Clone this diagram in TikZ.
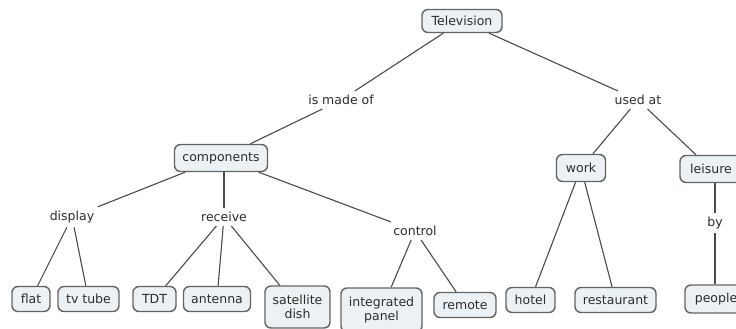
\documentclass[tikz,border=0pt]{standalone}
\usepackage{fontspec}
\setmainfont{DejaVu Sans}
\definecolor{boxfill}{RGB}{235,241,245}
\definecolor{boxline}{RGB}{100,100,100}
\definecolor{linkline}{RGB}{75,75,75}
\definecolor{txt}{RGB}{45,45,45}
\tikzset{
  concept/.style={draw=boxline, line width=1.4pt, fill=boxfill, rounded corners=6pt,
    text=txt, font=\fontsize{12.5}{13.5}\selectfont, align=center,
    inner xsep=2pt, inner ysep=2pt, minimum height=25pt},
  phrase/.style={text=txt, font=\fontsize{12.5}{13.5}\selectfont, inner xsep=4pt, inner ysep=4pt},
  link/.style={draw=linkline, line width=1.1pt}
}
\begin{document}
\begin{tikzpicture}[x=1pt, y=-1pt]
\useasboundingbox (0,0) rectangle (736,329);
\clip (0,0) rectangle (736,329);
\fill[white] (0,0) rectangle (736,329);

% concepts
\node[concept, minimum width=80pt, minimum height=23pt] (tv) at (462,21) {Television};
\node[concept, minimum width=93pt, minimum height=27pt] (comp) at (221,158) {components};
\node[concept, minimum width=49pt, minimum height=27pt] (work) at (581,168) {work};
\node[concept, minimum width=62pt, minimum height=27pt] (leis) at (711,169) {leisure};
\node[concept, minimum width=38pt] (flat) at (31,299) {flat};
\node[concept, minimum width=61pt] (tube) at (88.5,299) {tv tube};
\node[concept, minimum width=43pt] (tdt) at (154.5,299) {TDT};
\node[concept, minimum width=67pt] (ant) at (217,299) {antenna};
\node[concept, minimum width=65pt, minimum height=42pt] (sat) at (297.5,307) {satellite\\dish};
\node[concept, minimum width=81pt, minimum height=44pt] (panel) at (381.5,310) {integrated\\panel};
\node[concept, minimum width=62pt] (remote) at (465,305) {remote};
\node[concept, minimum width=49pt] (hotel) at (530.5,300) {hotel};
\node[concept, minimum width=81pt] (rest) at (615.5,300) {restaurant};
\node[concept, minimum width=62pt, minimum height=28pt] (people) at (716,299) {people};

% linking phrases
\node[phrase] (made) at (341,100) {is made of};
\node[phrase] (used) at (638,100) {used at};
\node[phrase] (disp) at (72,217) {display};
\node[phrase] (recv) at (224,217) {receive};
\node[phrase] (ctrl) at (415,231) {control};
\node[phrase] (by) at (715,223) {by};

% connectors
\draw[link] (tv) -- (made);
\draw[link] (made) -- (comp);
\draw[link] (tv) -- (used);
\draw[link] (used) -- (work);
\draw[link] (used) -- (leis);
\draw[link] (comp) -- (disp);
\draw[link] (comp.south -| recv) -- (recv);
\draw[link] (comp) -- (ctrl);
\draw[link] (disp) -- (flat);
\draw[link] (disp) -- (tube);
\draw[link] (recv) -- (tdt);
\draw[link] (recv) -- (ant);
\draw[link] (recv) -- (sat);
\draw[link] (ctrl) -- (panel);
\draw[link] (ctrl) -- (remote);
\draw[link] (work) -- (hotel);
\draw[link] (work) -- (rest);
\draw[link] (leis.south -| by) -- (by);
\draw[link] (by) -- (people.north -| by);
\end{tikzpicture}
\end{document}
